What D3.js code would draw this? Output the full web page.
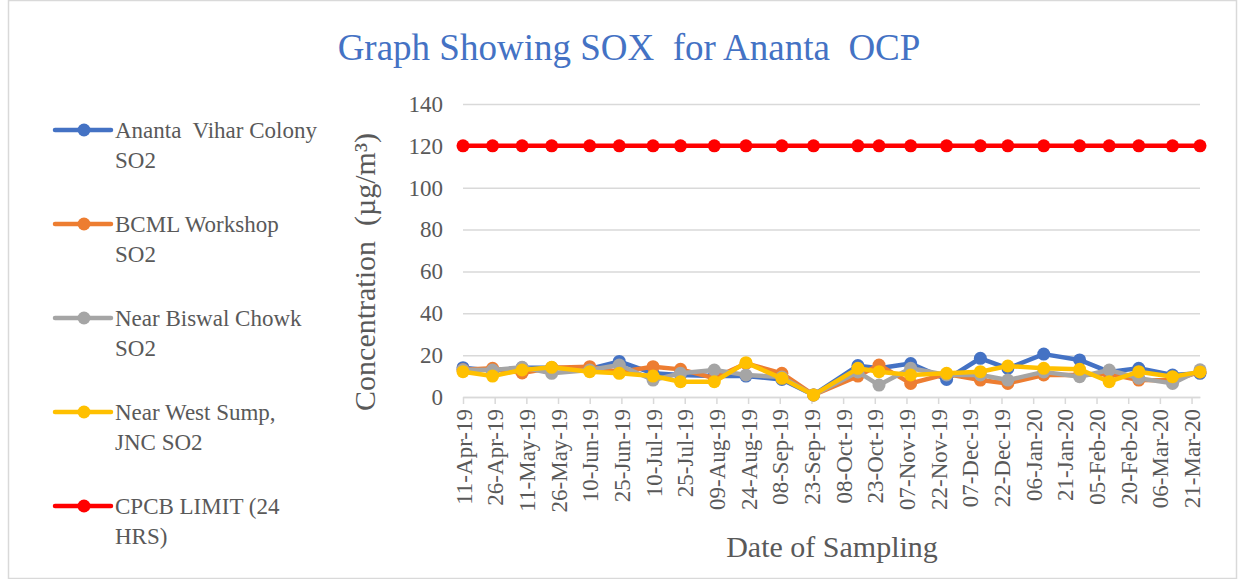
<!DOCTYPE html>
<html>
<head>
<meta charset="utf-8">
<script src="https://cdn.jsdelivr.net/npm/d3@7/dist/d3.min.js"></script>
<style>
  body { margin: 0; background: #fff; }
  svg text { font-family: "Liberation Serif", "Times New Roman", serif; }
</style>
</head>
<body>
<div id="place"></div>
<script>
// sampling dates
const dates = ["2019-04-11", "2019-04-25", "2019-05-09", "2019-05-23", "2019-06-10", "2019-06-24",
  "2019-07-10", "2019-07-23", "2019-08-08", "2019-08-23", "2019-09-09", "2019-09-24",
  "2019-10-15", "2019-10-25", "2019-11-09", "2019-11-26", "2019-12-12", "2019-12-25",
  "2020-01-11", "2020-01-28", "2020-02-11", "2020-02-25", "2020-03-12", "2020-03-25"];

const anantaVihar = [14, 12.6, 14, 14, 13.4, 17, 11.3, 10.5, 10, 10, 8.4, 1, 15, 13.7, 16, 8.4, 18.5, 13.7, 20.5, 17.7, 12, 13.7, 10.5, 11.3];
const bcmlWorkshop = [13, 13.7, 11.5, 14, 14.5, 12, 14.5, 13.2, 9, 16, 11.3, 1, 10, 15.3, 6.5, 11, 8.1, 6.5, 10.5, 10.5, 11, 8.1, 8, 12];
const biswalChowk = [13, 12.9, 14.2, 11.3, 12.9, 15.3, 8.1, 11.3, 12.9, 10.5, 9.5, 1, 12, 5.7, 13.7, 10.5, 10.5, 8.1, 12, 9.7, 12.9, 9, 6.5, 13];
const westSump = [12.1, 10, 12.9, 14.2, 12.1, 11.3, 10, 7.3, 7.3, 16.4, 8.9, 1, 13.7, 12.1, 10.5, 11.3, 12.1, 14.8, 13.7, 13.2, 7.3, 12.1, 9.7, 12];
const cpcbLimit = [120, 120, 120, 120, 120, 120, 120, 120, 120, 120, 120, 120, 120, 120, 120, 120, 120, 120, 120, 120, 120, 120, 120, 120];

const seriesNames = ["Ananta Vihar Colony SO2", "BCML Workshop SO2", "Near Biswal Chowk SO2", "Near West Sump, JNC SO2", "CPCB LIMIT (24 HRS)"];
const legendLines = [["Ananta  Vihar Colony", "SO2"], ["BCML Workshop", "SO2"], ["Near Biswal Chowk", "SO2"], ["Near West Sump,", "JNC SO2"], ["CPCB LIMIT (24", "HRS)"]];
const seriesColors = ["#4472C4", "#ED7D31", "#A5A5A5", "#FFC000", "#FF0000"];

const tickDates = ["2019-04-11", "2019-04-26", "2019-05-11", "2019-05-26", "2019-06-10", "2019-06-25",
  "2019-07-10", "2019-07-25", "2019-08-09", "2019-08-24", "2019-09-08", "2019-09-23",
  "2019-10-08", "2019-10-23", "2019-11-07", "2019-11-22", "2019-12-07", "2019-12-22",
  "2020-01-06", "2020-01-21", "2020-02-05", "2020-02-20", "2020-03-06", "2020-03-21"];
const yTicks = [0, 20, 40, 60, 80, 100, 120, 140];

const parse = d3.utcParse("%Y-%m-%d");
const fmt = d3.utcFormat("%d-%b-%y");

const W = 1244, H = 579;
const svg = d3.select("#place").append("svg").attr("width", W).attr("height", H);

// chart border
svg.append("rect").attr("x", 8.5).attr("y", 0.5).attr("width", 1228).attr("height", 578)
  .attr("fill", "none").attr("stroke", "#d9d9d9").attr("stroke-width", 1.5);

const x = d3.scaleUtc()
  .domain([parse("2019-04-11"), parse("2020-03-25")])
  .range([463, 1200]);
const y = d3.scaleLinear().domain([0, 140]).range([397, 104]);

// gridlines + y labels
const yAxis = d3.axisLeft(y).tickValues(yTicks).tickSize(-(1200 - 463)).tickPadding(20);
const gy = svg.append("g").attr("transform", "translate(463,0)").call(yAxis);
gy.select(".domain").remove();
gy.selectAll(".tick line").attr("stroke", "#d9d9d9").attr("stroke-width", 1.5);
gy.selectAll(".tick text").attr("fill", "#595959").attr("font-size", 23)
  .attr("font-family", "Liberation Serif").attr("x", -20);

// x axis
const xAxis = d3.axisBottom(x).tickValues(tickDates.map(parse)).tickFormat(fmt).tickSize(7).tickSizeOuter(0);
const gx = svg.append("g").attr("transform", "translate(0,397)").call(xAxis);
gx.select(".domain").attr("stroke", "#d9d9d9").attr("stroke-width", 1.5);
gx.selectAll(".tick line").attr("stroke", "#d9d9d9").attr("stroke-width", 1.5);
gx.selectAll(".tick text")
  .attr("fill", "#595959").attr("font-size", 23).attr("font-family", "Liberation Serif")
  .attr("transform", "rotate(-90)")
  .attr("text-anchor", "end")
  .attr("x", -12).attr("y", 0).attr("dy", "0.35em");

// series
const allSeries = [anantaVihar, bcmlWorkshop, biswalChowk, westSump, cpcbLimit];
const line = d3.line().x((d, i) => x(parse(dates[i]))).y(d => y(d));

allSeries.forEach((vals, k) => {
  const g = svg.append("g");
  g.append("path").datum(vals).attr("d", line)
    .attr("fill", "none").attr("stroke", seriesColors[k]).attr("stroke-width", 4.5)
    .attr("stroke-linejoin", "round");
  g.selectAll("circle").data(vals).enter().append("circle")
    .attr("cx", (d, i) => x(parse(dates[i])))
    .attr("cy", d => y(d))
    .attr("r", 6.5)
    .attr("fill", seriesColors[k]);
});

// title
svg.append("text").attr("x", 629).attr("y", 60).attr("text-anchor", "middle")
  .attr("font-size", 37).attr("fill", "#4472C4").style("white-space", "pre")
  .text("Graph Showing SOX  for Ananta  OCP");

// axis titles
svg.append("text").attr("transform", "translate(375,272) rotate(-90)")
  .attr("text-anchor", "middle").attr("font-size", 30).attr("fill", "#595959")
  .style("white-space", "pre").text("Concentration  (µg/m³)");
svg.append("text").attr("x", 832).attr("y", 557).attr("text-anchor", "middle")
  .attr("font-size", 30).attr("fill", "#595959").text("Date of Sampling");

// legend
const legendY = [130, 224, 318, 412, 506];
legendLines.forEach((lines, k) => {
  const g = svg.append("g").attr("transform", "translate(0," + legendY[k] + ")");
  g.append("line").attr("x1", 55).attr("x2", 111).attr("y1", 0).attr("y2", 0)
    .attr("stroke", seriesColors[k]).attr("stroke-width", 4.5).attr("stroke-linecap", "round");
  g.append("circle").attr("cx", 84).attr("cy", 0).attr("r", 6.5).attr("fill", seriesColors[k]);
  const t = g.append("text").attr("font-size", 23).attr("fill", "#595959").style("white-space", "pre");
  lines.forEach((s, j) => {
    t.append("tspan").attr("x", 115).attr("y", 8 + j * 30).text(s);
  });
});
</script>
</body>
</html>
